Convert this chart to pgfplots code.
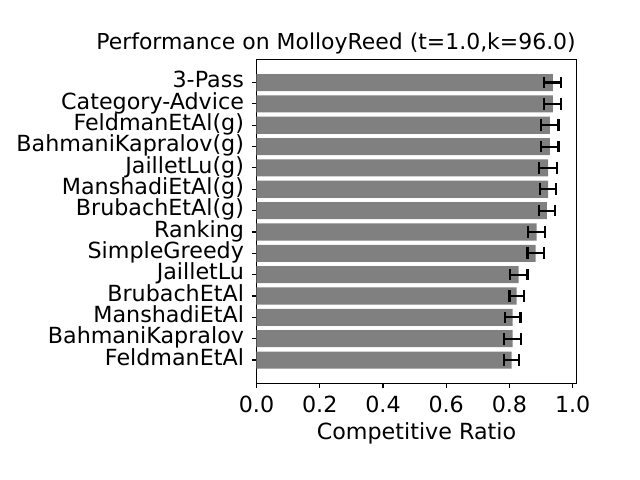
\documentclass[border=0pt]{standalone}
\usepackage{pgfplots}
\pgfplotsset{compat=1.18}
\usepackage{fontspec}
\setmainfont{DejaVu Sans}
\begin{document}
\fontsize{16pt}{19pt}\selectfont
\begin{tikzpicture}
  % frame of the 640x480 figure (1 px = 0.72pt)
  \path[use as bounding box] (-184.68pt,-69.62pt) rectangle ++(460.8pt,345.6pt);
  \begin{axis}[
      scale only axis,
      width=230.4pt,
      height=233.3pt,
      xbar,
      bar width=0.8,
      xmin=0, xmax=1.012,
      ymin=-1.09, ymax=14.09,
      xtick={0,0.2,...,1.0},
      ytick={0,...,13},
      yticklabels={FeldmanEtAl, BahmaniKapralov, ManshadiEtAl, BrubachEtAl, JailletLu,
        SimpleGreedy, Ranking, BrubachEtAl(g), ManshadiEtAl(g), JailletLu(g),
        BahmaniKapralov(g), FeldmanEtAl(g), Category-Advice, 3-Pass},
      xtick pos=bottom, ytick pos=left,
      tick align=outside,
      major tick length=3.5pt,
      every tick/.style={black, line width=0.8pt},
      axis line style={line width=0.8pt},
      /pgf/number format/.cd, fixed, fixed zerofill, precision=1, assume math mode=true,
      /pgfplots/.cd,
      tick label style={font=\fontsize{16pt}{16pt}\selectfont},
      yticklabel style={inner ysep=0pt, text height=10.5pt, text depth=3pt},
      xlabel={Competitive Ratio},
      xlabel style={font=\fontsize{16pt}{19pt}\selectfont, yshift=3.5pt},
      title={Performance on MolloyReed (t=1.0,k=96.0)},
      title style={font=\fontsize{15.8pt}{19pt}\selectfont, at={(1,1)}, anchor=south east,
        yshift=-7.5pt, xshift=5pt},
    ]
    \addplot[fill=black!50, draw=none,
      error bars/.cd, x dir=both, x explicit,
      error mark=|,
      error bar style={black, line width=1.5pt},
      error mark options={black, line width=1.5pt, mark size=4.2pt}]
      table[x=v, y=i, x error=e] {
        i  v      e
        0  0.807  0.024
        1  0.810  0.026
        2  0.810  0.025
        3  0.823  0.023
        4  0.829  0.028
        5  0.883  0.026
        6  0.886  0.026
        7  0.918  0.026
        8  0.922  0.026
        9  0.922  0.029
        10 0.928  0.027
        11 0.928  0.027
        12 0.937  0.027
        13 0.937  0.027
      };
  \end{axis}
\end{tikzpicture}
\end{document}
